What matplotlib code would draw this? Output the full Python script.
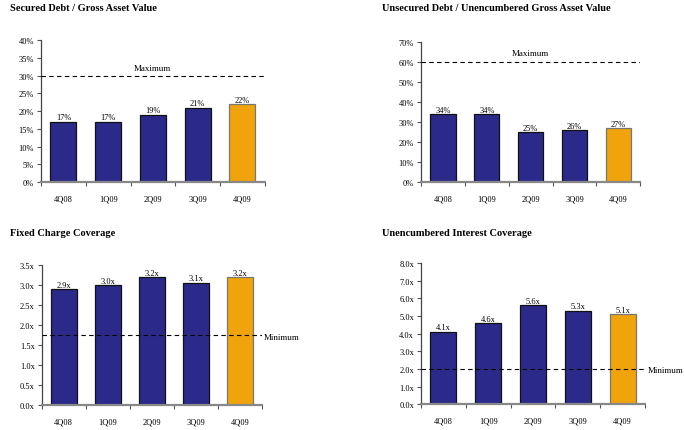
import matplotlib
matplotlib.use("Agg")
import matplotlib.pyplot as plt
from matplotlib.ticker import FuncFormatter

plt.rcParams['font.family'] = ['Liberation Serif', 'DejaVu Serif']

quarters = ["4Q08", "1Q09", "2Q09", "3Q09", "4Q09"]

secured_debt = [17, 17, 19, 21, 22]
unsecured_debt = [34, 34, 25, 26, 27]
fixed_charge = [2.9, 3.0, 3.2, 3.06, 3.2]
unenc_interest = [4.12, 4.6, 5.6, 5.3, 5.1]

secured_max = 30
unsecured_max = 60
fixed_min = 1.75
interest_min = 2.0

NAVY = "#2b2a8a"
GOLD = "#f0a30a"

fig = plt.figure(figsize=(6.84, 4.31), dpi=100)


def draw_panel(rect, title, title_x, title_y, values, ymax, ystep, fmt, line_val, line_text, line_label_pos):
    ax = fig.add_axes(rect)
    colors = [NAVY] * (len(values) - 1) + [GOLD]
    edges = ["#111111"] * (len(values) - 1) + ["#777777"]
    x = range(len(values))
    ax.bar(x, values, width=0.58, color=colors, edgecolor=edges, linewidth=0.9, zorder=2)
    for i, v in enumerate(values):
        ax.text(i, v + ymax * 0.003, fmt(v), ha="center", va="bottom", fontsize=6, zorder=3)
    ax.axhline(line_val, color="black", linestyle=(0, (4, 3)), linewidth=0.8, zorder=3)
    ax.set_xlim(-0.5, len(values) - 0.5)
    ax.set_ylim(0, ymax)
    yt = []
    t = 0
    while t <= ymax + 1e-9:
        yt.append(t)
        t += ystep
    ax.set_yticks(yt)
    ax.yaxis.set_major_formatter(FuncFormatter(lambda v, p: fmt(v)))
    ax.set_xticks(list(x))
    ax.set_xticklabels(quarters)
    ax.set_xticks([i + 0.5 for i in range(-1, len(values))], minor=True)
    ax.tick_params(axis="x", which="major", length=0, pad=9, labelsize=6)
    ax.tick_params(axis="x", which="minor", length=3, width=0.8, color="#555555", direction="out")
    ax.tick_params(axis="y", length=3, width=0.8, color="#555555", labelsize=6, pad=2)
    for s in ["top", "right"]:
        ax.spines[s].set_visible(False)
    ax.spines["left"].set_color("#444444")
    ax.spines["left"].set_linewidth(0.9)
    ax.spines["bottom"].set_color("#888888")
    ax.spines["bottom"].set_linewidth(1.6)
    fig.text(title_x, title_y, title, fontsize=7.5, fontweight="bold", ha="left", va="center")
    lx, ly, ha = line_label_pos
    ax.text(lx, ly, line_text, fontsize=6.5, ha=ha, va="center", transform=ax.transData, clip_on=False)
    return ax


pct = lambda v: "%d%%" % round(v)
times = lambda v: "%.1fx" % v

draw_panel([0.060, 0.575, 0.327, 0.330], "Secured Debt / Gross Asset Value", 0.015, 0.981,
           secured_debt, 40, 5, pct, secured_max, "Maximum", (2.0, secured_max + 2.2, "center"))
draw_panel([0.6155, 0.575, 0.3205, 0.325], "Unsecured Debt / Unencumbered Gross Asset Value", 0.558, 0.981,
           unsecured_debt, 70, 10, pct, unsecured_max, "Maximum", (2.0, unsecured_max + 4.5, "center"))
draw_panel([0.061, 0.058, 0.322, 0.325], "Fixed Charge Coverage", 0.015, 0.459,
           fixed_charge, 3.5, 0.5, times, fixed_min, "Minimum", (4.55, fixed_min - 0.05, "left"))
draw_panel([0.6155, 0.060, 0.3275, 0.327], "Unencumbered Interest Coverage", 0.558, 0.459,
           unenc_interest, 8.0, 1.0, times, interest_min, "Minimum", (4.55, interest_min - 0.05, "left"))

fig.savefig("out.png", dpi=100)
